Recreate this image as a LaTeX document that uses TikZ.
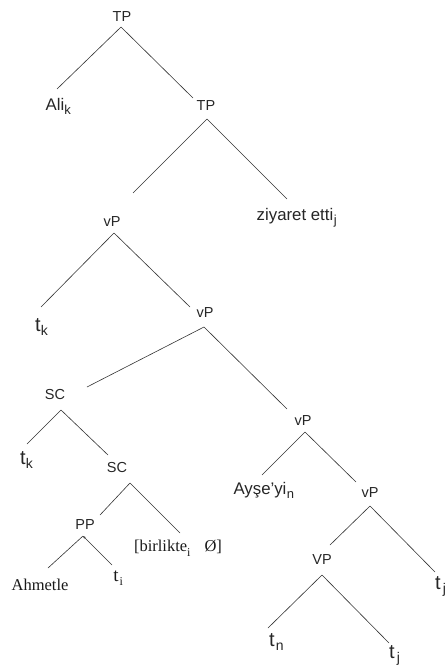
\documentclass[tikz,border=0pt]{standalone}
\usepackage{fontspec}
\setmainfont{Liberation Sans}
\newfontfamily\serifa{Liberation Serif}
\usetikzlibrary{arrows.meta}
% subscript that does not change the node's box
\newcommand\ssub[3][13]{\smash{\rlap{\kern#3pt\raisebox{-4.5pt}{\fontsize{#1}{#1}\selectfont #2}}}}
\begin{document}
\begin{tikzpicture}[x=1pt,y=-1pt,
  cat/.style={inner sep=0pt, font=\fontsize{14.5}{14.5}\selectfont, text=black!85},
  word/.style={inner sep=0pt, font=\fontsize{16.8}{16.8}\selectfont, text=black!85},
  trace/.style={inner sep=0pt, font=\fontsize{20}{20}\selectfont, text=black!85},
  sword/.style={inner sep=0pt, font=\serifa\fontsize{16.5}{16.5}\selectfont, text=black!90},
  strace/.style={inner sep=0pt, font=\serifa\fontsize{19}{19}\selectfont, text=black!90},
  branch/.style={draw=black!80, line width=0.6pt}]
\useasboundingbox (0,0) rectangle (446,669);

% nodes
\node[cat]   (tp1)  at (122,17)  {TP};
\node[word]  (ali)  at (55,104)  {Ali\ssub{k}{0}};
\node[cat]   (tp2)  at (206,106) {TP};
\node[word]  (ziy)  at (295,216) {ziyaret etti\ssub{j}{0.5}};
\node[cat]   (vp1)  at (112,222) {vP};
\node[trace] (tk1)  at (38,325)  {t\ssub[14]{k}{0}};
\node[cat]   (vp2)  at (205,313) {vP};
\node[cat]   (sc1)  at (55,395)  {SC};
\node[cat]   (vp3)  at (303,421) {vP};
\node[trace] (tk2)  at (23,458)  {t\ssub[14]{k}{0}};
\node[cat]   (sc2)  at (117,468) {SC};
\node[word]  (ayse) at (260,490) {Ayşe'yi\ssub{n}{0.5}};
\node[cat]   (vp4)  at (370,493) {vP};
\node[cat]   (pp)   at (85,525)  {PP};
\node[sword] (birl) at (178,548) {[birlikte\raisebox{-5pt}{\fontsize{12}{12}\selectfont i}\hspace{14pt}Ø]};
\node[cat]   (vpc)  at (322,560) {VP};
\node[trace] (tjr)  at (438,583) {t\ssub[14]{j}{2}};
\node[sword] (ahm)  at (40,585)  {Ahmetle};
\node[strace](ti)   at (116,576) {t\ssub[12]{i}{1}};
\node[trace] (tn)   at (272,640) {t\ssub[14]{n}{1}};
\node[trace] (tjb)  at (392,652) {t\ssub[14]{j}{2}};

% branches
\draw[branch] ([shift={(-1,10)}]tp1.center) -- ([shift={(2,-15)}]ali.center);
\draw[branch] ([shift={(-1,10)}]tp1.center) -- ([shift={(-13,-8)}]tp2.center);
\draw[branch] ([shift={(1,13)}]tp2.center) -- ([shift={(21,-29)}]vp1.center);
\draw[branch] ([shift={(1,13)}]tp2.center) -- ([shift={(-8,-17)}]ziy.center);
\draw[branch] ([shift={(2,11)}]vp1.center) -- ([shift={(3,-18)}]tk1.center);
\draw[branch] ([shift={(2,11)}]vp1.center) -- ([shift={(-15,-6)}]vp2.center);
\draw[branch] ([shift={(-1,14)}]vp2.center) -- ([shift={(32,-8)}]sc1.center);
\draw[branch] ([shift={(-1,14)}]vp2.center) -- ([shift={(-16,-12)}]vp3.center);
\draw[branch] ([shift={(2,11)}]vp3.center) -- ([shift={(2,-15)}]ayse.center);
\draw[branch] ([shift={(2,11)}]vp3.center) -- ([shift={(-14,-11)}]vp4.center);
\draw[branch] ([shift={(0,13)}]vp4.center) -- ([shift={(8,-15)}]vpc.center);
\draw[branch] ([shift={(0,13)}]vp4.center) -- ([shift={(-3,-11)}]tjr.center);
\draw[branch] ([shift={(0,15)}]vpc.center) -- ([shift={(-4,-12)}]tn.center);
\draw[branch] ([shift={(0,15)}]vpc.center) -- ([shift={(-3,-9)}]tjb.center);
\draw[branch] ([shift={(6,15)}]sc1.center) -- ([shift={(4,-14)}]tk2.center);
\draw[branch] ([shift={(6,15)}]sc1.center) -- ([shift={(-9,-13)}]sc2.center);
\draw[branch] ([shift={(13,15)}]sc2.center) -- ([shift={(15,-10)}]pp.center);
\draw[branch] ([shift={(13,15)}]sc2.center) -- ([shift={(2,-15)}]birl.center);
\draw[branch] ([shift={(-2,11)}]pp.center) -- ([shift={(8,-17)}]ahm.center);
\draw[branch, {Stealth[length=3pt,width=2.4pt]}-] ([shift={(-2,11)}]pp.center) -- ([shift={(-4,-11)}]ti.center);
\end{tikzpicture}
\end{document}
